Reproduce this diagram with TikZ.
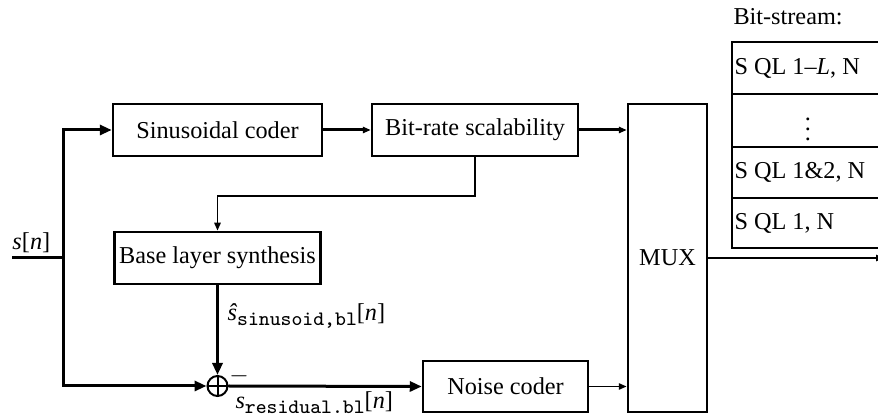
\documentclass[tikz,border=0pt]{standalone}
\usepackage{fontspec}
\setmainfont{Liberation Serif}
\usetikzlibrary{arrows.meta,calc}
\newcommand\ttsub[1]{\raisebox{-0.4ex}{\fontsize{8.2}{9}\selectfont\ttfamily #1}}
\begin{document}
\begin{tikzpicture}[x=0.4pt,y=-0.4pt,
  font=\fontsize{9.7}{12}\selectfont,
  blk/.style={draw,line width=1pt,inner sep=0pt,minimum height=52*0.4pt},
  thk/.style={line width=1.2pt},
  thn/.style={line width=0.75pt},
  bigtip/.style={-{Triangle[length=4.8pt,width=4pt]}},
  smalltip/.style={-{Triangle[length=3.2pt,width=2.5pt]}},
  lbl/.style={inner sep=0pt},
  sumnode/.style={draw,circle,line width=0.8pt,minimum size=20*0.4pt,inner sep=0pt}]
\useasboundingbox (0,0) rectangle (878,417);
\clip (0,0) rectangle (878,417);

% processing blocks
\node[blk,minimum width=209*0.4pt] (sin)   at (217.5,130) {Sinusoidal coder};
\node[blk,minimum width=206*0.4pt] (brs)   at (475,130)   {Bit-rate scalability};
\node[blk,minimum width=206*0.4pt] (bls)   at (217.5,258) {Base layer synthesis};
\node[blk,minimum width=165*0.4pt,minimum height=51*0.4pt] (noise) at (505.5,386.5) {Noise coder};
\node[blk,minimum width=79*0.4pt,minimum height=308*0.4pt] (mux) at (667.5,258) {MUX};

% summing junction
\node[sumnode] (sum) at (217.5,386) {};
\draw[line width=0.8pt] (sum.north) -- (sum.south) (sum.west) -- (sum.east);
\node[lbl] (minus) at (239,376) {$-$};

% input and branch points
\coordinate (in)  at (12,258);
\coordinate (top) at (63,130);
\coordinate (bot) at (63,386);
\coordinate (out) at (884,258);
\node[lbl,anchor=base west] (sn) at (12,250) {\textit{s}[\textit{n}]};

\draw[thk] (in) -- (in -| top);
\draw[thk,{Triangle[length=4.8pt,width=4pt]}-{Triangle[length=4.8pt,width=4pt]}]
  (sin.west) -- (top) -- (bot) -- (sum.west);

% upper signal path
\draw[thk,smalltip] (sin.east) -- (brs.west);
\draw[thk,smalltip] (brs.east) -- (brs.east -| mux.west);
\draw[thn,smalltip] (brs.south) -- ++(0,39) -| (bls.north);

% residual path
\draw[thk,bigtip] (bls.south) -- (sum.north);
\draw[thk,bigtip] (sum.east) -- (noise.west);
\draw[thn,smalltip] (noise.east) -- (noise.east -| mux.west);
\draw[thn,smalltip] (mux.east |- out) -- (out);

\node[lbl,anchor=base west] (shat) at (227,321)
  {\textit{ŝ}\ttsub{sinusoid,bl}[\textit{n}]};
\node[lbl,anchor=base west] (sres) at (235,409)
  {\textit{s}\ttsub{residual.bl}[\textit{n}]};

% bit-stream layout
\node[lbl,anchor=base west] (bstitle) at (733,25) {Bit-stream:};
\draw[line width=1pt] (732,42) rectangle (884,248);
\draw[line width=1pt] (732,94) -- (884,94) (732,147) -- (884,147) (732,198) -- (884,198);
\node[lbl,anchor=west] (r1) at (734,68)  {S QL 1–\textit{L}, N};
\node[lbl] (r2) at (808,122) {$\vdots$};
\node[lbl,anchor=west] (r3) at (734,172) {S QL 1\&2, N};
\node[lbl,anchor=west] (r4) at (734,223) {S QL 1, N};
\end{tikzpicture}
\end{document}
